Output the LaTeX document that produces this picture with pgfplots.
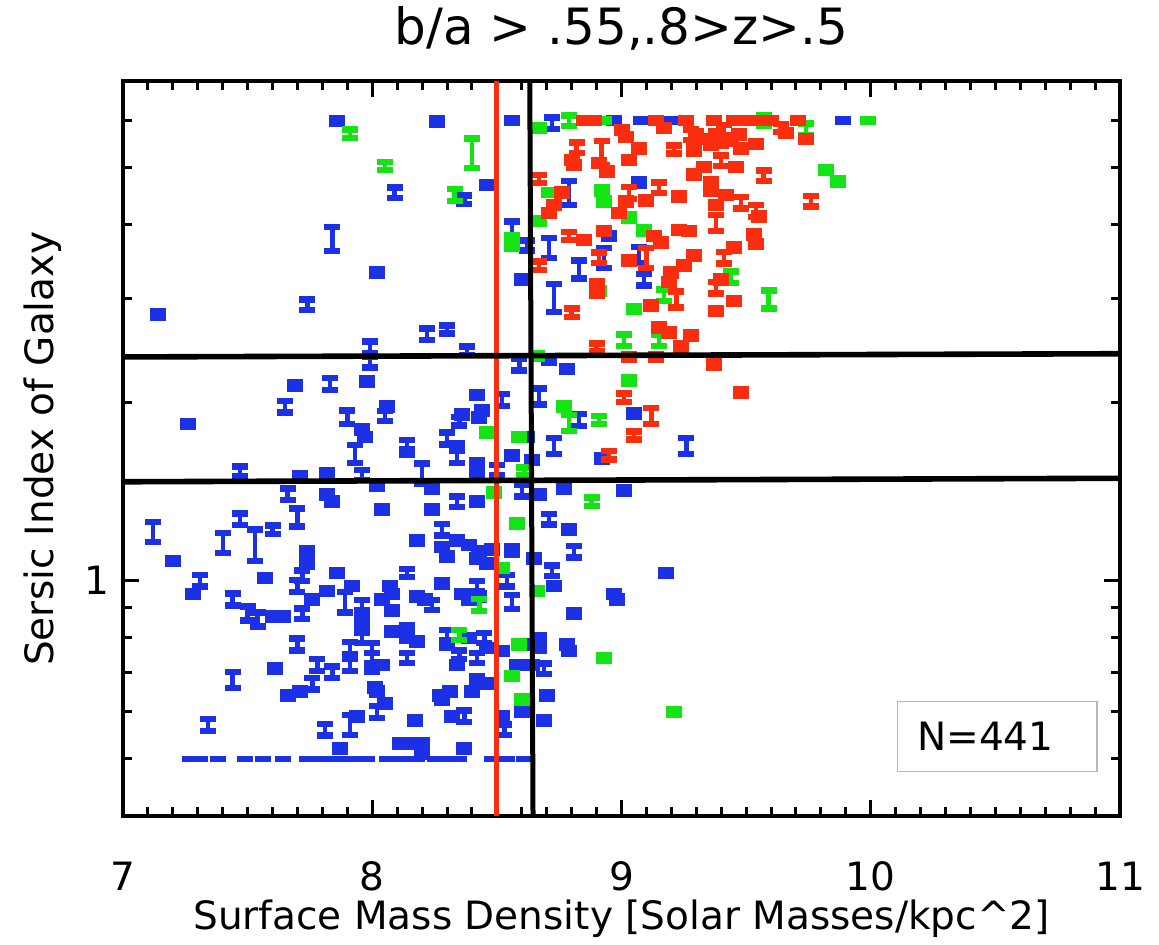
\documentclass[border=0pt]{standalone}
\usepackage{fontspec}
\setmainfont{DejaVu Sans}
\usepackage{pgfplots}
\pgfplotsset{compat=1.18}
\definecolor{pblue}{RGB}{28,48,230}
\definecolor{pred}{RGB}{250,45,15}
\definecolor{pgreen}{RGB}{20,228,20}
\newcommand{\lbl}{\fontsize{19.5pt}{23pt}\selectfont}
\pgfplotsset{ibar/.style={draw=none, mark=none,
  error bars/.cd, y dir=both, y explicit relative,
  error bar style={draw=#1, line width=2.2pt},
  error mark options={rotate=90, draw=#1, line width=3.2pt, mark size=4pt}}}

\begin{document}
\begin{tikzpicture}
\begin{axis}[
  scale only axis, width=498.5pt, height=367.5pt,
  ymode=log, xmin=7, xmax=11, ymin=0.4, ymax=7,
  xtick={7,8,9,10,11}, minor x tick num=9,
  ytick={1}, yticklabels={1},
  minor ytick={0.5,0.6,0.7,0.8,0.9,2,3,4,5,6},
  /pgf/number format/assume math mode=true,
  axis line style={line width=2pt},
  tick style={line width=1.5pt, black},
  major tick length=8pt, minor tick length=4.5pt,
  tick label style={font=\lbl},
  xticklabel style={anchor=center, yshift=-30pt},
  yticklabel style={anchor=center, xshift=-13pt},
  title={b/a > .55,.8>z>.5},
  title style={font=\fontsize{25pt}{29pt}\selectfont, at={(axis description cs:0.5,1.055)}, anchor=center},
  xlabel={Surface Mass Density [Solar Masses/kpc\textasciicircum2]},
  xlabel style={font=\lbl, at={(axis description cs:0.5,-0.14)}, anchor=center},
  ylabel={Sersic Index of Galaxy},
  ylabel style={font=\lbl, at={(axis description cs:-0.081,0.5)}, anchor=center},
]
% blue
\addplot[ibar=pblue] table[x=x, y=y, y error=e] {
x y e
7.86 5.99 0.012
8.26 5.98 0.012
8.09 4.53 0.02
8.37 4.41 0.016
8.46 4.67 0.012
8.56 6.0 0.01
7.84 3.79 0.047
8.02 3.32 0.012
7.74 2.93 0.02
7.14 2.82 0.012
8.22 2.61 0.023
8.30 2.66 0.016
7.99 2.48 0.023
8.38 2.45 0.016
8.56 3.90 0.039
8.62 3.69 0.02
8.60 3.23 0.012
8.71 3.66 0.039
8.72 5.94 0.023
8.79 4.53 0.047
9.07 4.71 0.012
8.95 3.83 0.012
8.83 3.36 0.035
8.93 3.52 0.039
9.07 3.56 0.031
9.09 3.23 0.023
8.73 3.01 0.054
8.97 6.0 0.008
9.08 6.0 0.005
9.20 6.0 0.005
9.89 6.0 0.005
7.99 2.34 0.02
8.59 2.32 0.023
8.71 2.36 0.012
8.78 2.28 0.012
7.69 2.14 0.012
7.83 2.15 0.023
7.98 2.17 0.012
8.42 2.06 0.012
8.52 2.02 0.023
8.67 2.05 0.031
7.65 1.97 0.023
7.26 1.84 0.012
7.90 1.89 0.027
7.96 1.80 0.012
7.97 1.75 0.012
8.06 1.97 0.012
8.05 1.90 0.02
8.44 1.94 0.012
8.43 1.89 0.012
8.36 1.91 0.012
8.35 1.86 0.016
8.62 1.75 0.012
8.73 1.69 0.031
8.14 1.69 0.023
8.14 1.65 0.012
8.30 1.74 0.023
8.34 1.69 0.012
8.34 1.62 0.023
7.93 1.64 0.035
8.42 1.58 0.012
8.42 1.52 0.012
8.50 1.54 0.02
8.56 1.63 0.012
8.64 1.60 0.012
8.20 1.52 0.039
7.47 1.53 0.02
7.71 1.50 0.012
7.82 1.52 0.012
7.96 1.51 0.02
8.83 1.87 0.023
9.05 1.92 0.012
8.92 1.61 0.012
9.26 1.69 0.031
7.82 1.40 0.012
7.84 1.36 0.012
7.66 1.40 0.023
8.02 1.45 0.012
8.24 1.43 0.012
8.34 1.36 0.02
8.42 1.36 0.012
8.60 1.42 0.023
8.67 1.40 0.012
8.77 1.43 0.012
9.01 1.42 0.012
8.04 1.32 0.012
8.24 1.32 0.012
7.12 1.21 0.039
7.20 1.08 0.012
7.40 1.16 0.039
7.47 1.27 0.023
7.53 1.15 0.062
7.60 1.22 0.016
7.70 1.28 0.035
7.74 1.12 0.012
7.74 1.07 0.012
7.57 1.01 0.012
7.31 1.00 0.023
7.28 0.95 0.012
7.72 1.02 0.02
7.70 0.98 0.023
7.44 0.93 0.023
7.50 0.88 0.027
7.54 0.86 0.027
7.60 0.87 0.012
7.64 0.87 0.012
7.72 0.88 0.02
7.76 0.93 0.012
7.86 1.03 0.012
7.82 0.96 0.012
7.92 0.98 0.012
7.89 0.92 0.039
7.96 0.91 0.02
8.14 1.03 0.016
8.07 0.98 0.012
8.08 0.95 0.012
8.04 0.93 0.012
8.08 0.89 0.012
8.18 0.94 0.012
8.21 0.93 0.012
8.24 0.91 0.02
8.28 0.99 0.012
8.18 1.17 0.012
8.28 1.22 0.023
8.28 1.14 0.012
8.30 1.10 0.012
8.34 1.17 0.012
8.39 1.15 0.012
8.42 1.09 0.012
8.46 1.07 0.012
8.43 1.12 0.012
8.48 1.13 0.012
8.36 0.95 0.012
8.42 0.98 0.02
8.43 0.94 0.012
8.54 1.00 0.023
8.56 0.92 0.027
8.52 0.76 0.012
7.70 0.78 0.023
7.96 0.86 0.012
7.96 0.83 0.012
7.96 0.80 0.02
8.08 0.82 0.012
8.14 0.83 0.012
8.14 0.80 0.012
8.18 0.79 0.012
8.30 0.81 0.02
8.30 0.78 0.012
8.39 0.80 0.012
8.45 0.80 0.02
8.46 0.77 0.012
7.91 0.77 0.023
8.00 0.77 0.02
8.00 0.74 0.02
8.04 0.72 0.012
8.00 0.71 0.012
7.91 0.72 0.023
7.84 0.70 0.023
7.78 0.72 0.023
7.61 0.71 0.012
7.44 0.68 0.031
8.14 0.74 0.02
8.35 0.75 0.016
8.34 0.72 0.012
8.42 0.74 0.02
8.58 0.72 0.012
7.66 0.64 0.012
7.71 0.65 0.012
7.76 0.67 0.023
8.01 0.66 0.012
8.02 0.65 0.012
8.05 0.62 0.012
8.02 0.60 0.023
8.27 0.64 0.012
8.31 0.65 0.012
8.28 0.63 0.012
8.42 0.68 0.012
8.46 0.67 0.012
8.40 0.65 0.012
8.32 0.59 0.012
8.37 0.59 0.023
7.34 0.57 0.023
7.81 0.56 0.023
7.91 0.57 0.039
7.94 0.59 0.012
8.17 0.58 0.012
8.11 0.53 0.012
8.15 0.53 0.012
7.87 0.52 0.012
8.20 0.51 0.012
8.37 0.52 0.012
8.52 0.59 0.012
8.53 0.56 0.02
8.60 0.60 0.012
8.69 0.58 0.012
8.56 1.13 0.012
8.65 1.09 0.012
8.71 1.27 0.02
8.79 1.22 0.012
8.81 1.12 0.023
8.72 1.04 0.02
8.73 0.98 0.012
8.81 0.88 0.012
8.97 0.95 0.012
8.98 0.93 0.012
9.18 1.03 0.012
8.60 0.78 0.012
8.67 0.77 0.012
8.78 0.78 0.012
8.79 0.76 0.012
8.64 0.72 0.012
8.69 0.71 0.02
8.70 0.64 0.012
8.67 0.80 0.012
8.56 1.12 0.012
8.39 0.93 0.012
8.20 0.53 0.012
7.27 0.5 0
7.31 0.5 0
7.38 0.5 0
7.49 0.5 0
7.56 0.5 0
7.64 0.5 0
7.74 0.5 0
7.80 0.5 0
7.86 0.5 0
7.92 0.5 0
7.98 0.5 0
8.06 0.5 0
8.12 0.5 0
8.18 0.5 0
8.25 0.5 0
8.31 0.5 0
8.35 0.5 0
8.48 0.5 0
8.54 0.5 0
8.61 0.5 0
};
% green
\addplot[ibar=pgreen] table[x=x, y=y, y error=e] {
x y e
7.91 5.70 0.016
8.05 5.03 0.016
8.40 5.29 0.058
8.33 4.49 0.023
8.56 3.80 0.012
8.56 3.69 0.012
8.67 5.83 0.012
8.79 6.0 0.02
8.66 2.40 0.012
8.93 6.0 0.005
8.71 4.53 0.008
8.92 4.57 0.012
8.93 4.38 0.012
8.67 4.06 0.012
9.03 4.11 0.012
9.09 3.91 0.012
8.91 3.09 0.012
9.05 2.88 0.012
9.17 3.04 0.023
9.01 2.55 0.023
9.15 2.55 0.023
9.57 6.0 0.02
9.74 5.80 0.023
9.99 6.0 0.005
9.82 4.95 0.012
9.87 4.73 0.012
9.44 3.26 0.023
9.59 2.99 0.035
9.03 2.18 0.012
8.77 1.97 0.012
8.79 1.85 0.031
8.91 1.87 0.016
8.59 1.75 0.012
8.46 1.78 0.012
8.61 1.53 0.016
8.49 1.41 0.012
8.88 1.36 0.016
8.58 1.25 0.012
8.52 1.05 0.012
8.66 0.96 0.012
8.43 0.91 0.023
8.35 0.81 0.02
8.59 0.78 0.012
8.93 0.74 0.012
8.56 0.69 0.012
8.60 0.63 0.012
9.21 0.60 0.012
};
% red
\addplot[ibar=pred] table[x=x, y=y, y error=e] {
x y e
8.85 6.0 0.008
8.89 6.0 0.008
9.14 6.0 0.008
9.26 6.0 0.008
9.37 6.0 0.008
9.45 6.0 0.008
9.50 6.0 0.008
9.54 6.0 0.008
9.60 6.0 0.008
9.71 6.0 0.008
9.17 5.83 0.012
9.00 5.78 0.012
9.02 5.63 0.012
9.28 5.68 0.02
9.21 5.36 0.016
9.07 5.38 0.012
8.82 5.40 0.02
8.80 5.15 0.012
8.81 5.05 0.012
8.92 5.29 0.047
8.91 5.09 0.012
8.94 4.92 0.012
9.03 5.15 0.012
9.29 4.86 0.012
9.29 5.33 0.012
8.67 4.78 0.016
8.76 4.53 0.012
8.73 4.32 0.012
8.71 4.19 0.012
9.03 4.53 0.023
9.02 4.38 0.012
8.99 4.19 0.012
9.10 4.40 0.012
9.15 4.62 0.02
9.23 4.46 0.012
8.79 3.83 0.016
8.85 3.77 0.012
8.93 3.90 0.012
9.13 3.83 0.012
9.16 3.73 0.012
9.23 3.92 0.012
9.27 3.90 0.012
8.67 3.41 0.016
8.91 3.52 0.02
9.10 3.52 0.039
9.03 3.48 0.012
9.29 3.55 0.012
9.25 3.41 0.012
9.20 3.32 0.012
9.19 3.20 0.012
8.90 3.17 0.012
8.90 3.07 0.012
8.80 2.84 0.016
9.12 2.92 0.012
9.22 2.99 0.031
9.15 2.68 0.012
9.19 2.63 0.012
9.28 2.60 0.012
8.90 2.48 0.016
9.24 2.49 0.012
9.64 5.83 0.016
9.66 5.72 0.012
9.74 5.58 0.012
9.30 5.68 0.012
9.33 5.58 0.012
9.38 5.68 0.012
9.41 5.78 0.02
9.40 5.50 0.012
9.44 5.54 0.012
9.47 5.68 0.012
9.48 5.38 0.012
9.54 5.48 0.012
9.29 5.40 0.012
9.36 5.46 0.012
9.33 5.01 0.012
9.29 4.86 0.012
9.40 5.13 0.02
9.46 5.01 0.012
9.57 4.84 0.02
9.36 4.71 0.012
9.36 4.56 0.012
9.42 4.49 0.012
9.38 4.32 0.012
9.48 4.36 0.023
9.54 4.22 0.023
9.55 4.13 0.012
9.76 4.38 0.02
9.38 4.03 0.031
9.53 3.85 0.012
9.54 3.71 0.012
9.45 3.66 0.012
9.41 3.52 0.023
9.40 3.23 0.012
9.38 3.13 0.023
9.45 2.97 0.012
9.38 2.86 0.012
9.37 2.32 0.012
9.48 2.08 0.012
9.01 2.04 0.016
9.12 1.90 0.031
9.05 1.76 0.016
8.95 1.63 0.016
9.03 2.39 0.012
9.14 2.39 0.012
};
% cut lines
\addplot[pred, line width=2.5pt] coordinates {(8.5,0.4) (8.5,7)};
\addplot[black, line width=2.5pt] coordinates {(8.632,7) (8.645,0.4)};
\addplot[black, line width=2.8pt] coordinates {(7,2.39) (11,2.42)};
\addplot[black, line width=2.8pt] coordinates {(7,1.47) (11,1.49)};
\draw[gray!55, line width=0.6pt] (rel axis cs:0.777,0.061) rectangle (rel axis cs:0.977,0.156);
\node[font=\lbl] at (rel axis cs:0.865,0.108) {N=441};
\coordinate (SW) at (rel axis cs:0,0);
\coordinate (NE) at (rel axis cs:1,1);
\end{axis}
\path (SW) ++(-61.5pt,-60pt) coordinate (A);
\path (NE) ++(19.5pt,40pt) coordinate (B);
\path (A) rectangle (B);
\end{tikzpicture}
\end{document}
